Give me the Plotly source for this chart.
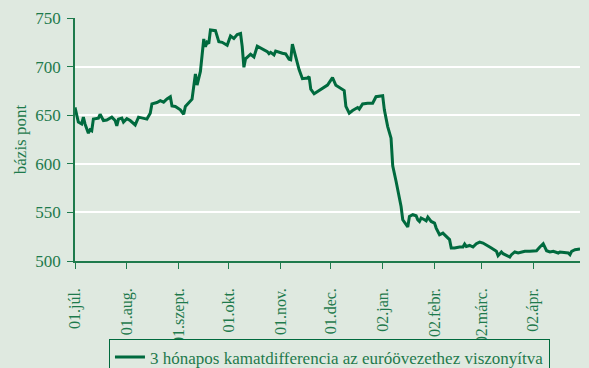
import plotly.graph_objects as go

# 3-month interest rate differential vs. the euro area, basis points
dates = [
    "2001-07-01", "2001-07-03", "2001-07-05", "2001-07-06", "2001-07-07", "2001-07-09",
    "2001-07-10", "2001-07-11", "2001-07-12", "2001-07-15", "2001-07-16", "2001-07-18",
    "2001-07-20", "2001-07-23", "2001-07-25", "2001-07-26", "2001-07-27", "2001-07-29",
    "2001-07-30", "2001-08-01", "2001-08-03", "2001-08-06", "2001-08-08", "2001-08-11",
    "2001-08-13", "2001-08-15", "2001-08-16", "2001-08-19", "2001-08-21", "2001-08-23",
    "2001-08-25", "2001-08-27", "2001-08-28", "2001-08-30", "2001-09-02", "2001-09-04",
    "2001-09-05", "2001-09-09", "2001-09-11", "2001-09-12", "2001-09-14", "2001-09-16",
    "2001-09-17", "2001-09-18", "2001-09-19", "2001-09-20", "2001-09-23", "2001-09-25",
    "2001-09-27", "2001-09-30", "2001-10-02", "2001-10-04", "2001-10-06", "2001-10-08",
    "2001-10-09", "2001-10-10", "2001-10-11", "2001-10-14", "2001-10-16", "2001-10-18",
    "2001-10-22", "2001-10-24", "2001-10-25", "2001-10-26", "2001-10-28", "2001-10-29",
    "2001-11-02", "2001-11-04", "2001-11-06", "2001-11-07", "2001-11-08", "2001-11-11",
    "2001-11-12", "2001-11-14", "2001-11-17", "2001-11-18", "2001-11-19", "2001-11-21",
    "2001-11-24", "2001-11-27", "2001-11-29", "2001-11-30", "2001-12-02", "2001-12-04",
    "2001-12-06", "2001-12-09", "2001-12-10", "2001-12-12", "2001-12-14", "2001-12-17",
    "2001-12-18", "2001-12-20", "2001-12-23", "2001-12-26", "2001-12-28", "2001-12-30",
    "2002-01-01", "2002-01-02", "2002-01-04", "2002-01-06", "2002-01-07", "2002-01-09",
    "2002-01-12", "2002-01-13", "2002-01-15", "2002-01-16", "2002-01-17", "2002-01-19",
    "2002-01-21", "2002-01-22", "2002-01-23", "2002-01-24", "2002-01-26", "2002-01-27",
    "2002-01-28", "2002-01-30", "2002-02-01", "2002-02-02", "2002-02-04", "2002-02-06",
    "2002-02-08", "2002-02-10", "2002-02-11", "2002-02-13", "2002-02-16", "2002-02-18",
    "2002-02-19", "2002-02-20", "2002-02-22", "2002-02-24", "2002-02-26", "2002-02-28",
    "2002-03-02", "2002-03-04", "2002-03-06", "2002-03-07", "2002-03-09", "2002-03-10",
    "2002-03-11", "2002-03-13", "2002-03-14", "2002-03-16", "2002-03-18", "2002-03-19",
    "2002-03-21", "2002-03-23", "2002-03-25", "2002-03-27", "2002-03-30", "2002-04-03",
    "2002-04-05", "2002-04-07", "2002-04-09", "2002-04-11", "2002-04-13", "2002-04-16",
    "2002-04-17", "2002-04-20", "2002-04-22", "2002-04-23", "2002-04-24", "2002-04-26",
    "2002-04-29",
]

spread = [
    658, 643, 641, 648, 641, 631.5,
    635, 634, 646, 647, 651, 644.5,
    645, 648, 644.5, 639, 646, 647,
    643, 646.5, 644.5, 640, 648, 647,
    646, 652, 661.6, 663, 665, 663.4,
    666.8, 669, 659.6, 659, 655.5, 651,
    659, 666.5, 692.5, 681, 695, 728.4,
    720.5, 725, 723.6, 737.7, 737, 725.7,
    725, 722, 731.5, 729, 733, 734,
    720.5, 699.3, 708, 712.7, 710, 721,
    717.8, 715.4, 713.3, 714.7, 712, 716,
    713.7, 713, 707.5, 707, 723, 703.5,
    697, 687.6, 688.3, 689.7, 676.7, 672,
    675.3, 678.8, 681, 683.5, 688.6, 680.8,
    678.8, 675.3, 659, 652, 654.8, 657.9,
    656.2, 661.6, 662.3, 662.3, 669, 669.5,
    670, 655.5, 638.3, 626.4, 598, 582,
    556, 542.4, 537, 535, 545.8, 547.6,
    546.5, 542.4, 540.7, 544.2, 542.4, 541.4,
    545.2, 540.7, 539, 533.9, 527, 528.7,
    525.3, 522, 513.4, 513.4, 514.4, 514.4,
    517.5, 515, 516, 514.4, 517.8, 519.5,
    518.5, 516.8, 514.4, 513.4, 511.6, 510,
    505.5, 509.3, 507.5, 505.5, 504.1, 506.5,
    509.3, 508.2, 509.3, 510, 510, 510.6,
    514.4, 517.8, 510.6, 509.3, 510, 508.2,
    509.3, 508.2, 508.2, 506.5, 510, 511.6,
    512.3,
]

tick_dates = ["2001-07-01", "2001-08-01", "2001-09-01", "2001-10-01", "2001-11-01",
              "2001-12-01", "2002-01-01", "2002-02-01", "2002-03-01", "2002-04-01"]
tick_labels = ["01.júl.", "01.aug.", "01.szept.", "01.okt.", "01.nov.",
               "01.dec.", "02.jan.", "02.febr.", "02.márc.", "02.ápr."]
y_ticks = [500, 550, 600, 650, 700, 750]

BG = "#dfe9e0"
LINE = "#006a3e"
TEXT = "#1e7a4c"
FONT = "Liberation Serif"

fig = go.Figure()
fig.add_trace(go.Scatter(
    x=dates, y=spread, mode="lines",
    line=dict(color=LINE, width=3),
    name="3 hónapos kamatdifferencia az euróövezethez viszonyítva",
))

fig.update_layout(
    width=589, height=368,
    paper_bgcolor=BG, plot_bgcolor=BG,
    margin=dict(l=75, r=9, t=18, b=107, autoexpand=False),
    font=dict(family=FONT, color=TEXT, size=17),
    showlegend=True,
    legend=dict(
        orientation="h", xref="container", yref="container",
        x=0.185, y=0.08, xanchor="left", yanchor="top",
        bordercolor=LINE, borderwidth=1, bgcolor=BG,
        font=dict(family=FONT, size=17, color=TEXT),
    ),
    xaxis=dict(
        type="date", range=["2001-07-01", "2002-04-29"],
        tickmode="array", tickvals=tick_dates, ticktext=tick_labels,
        tickangle=-90, ticks="outside", ticklen=6, tickcolor=TEXT,
        ticklabelstandoff=13,
        showgrid=False, showline=True, linecolor=TEXT, linewidth=1.5,
        tickfont=dict(family=FONT, size=16, color=TEXT),
        zeroline=False,
    ),
    yaxis=dict(
        range=[500, 750], tickvals=y_ticks,
        ticks="outside", ticklen=6, tickcolor=TEXT,
        ticklabelstandoff=3,
        showgrid=True, gridcolor="#ffffff", gridwidth=1.5,
        showline=True, linecolor=TEXT, linewidth=1.5,
        tickfont=dict(family=FONT, size=17, color=TEXT),
        title=dict(text="bázis pont", font=dict(family=FONT, size=17, color=TEXT), standoff=4),
        zeroline=False,
    ),
)

fig.write_html("out.html")
